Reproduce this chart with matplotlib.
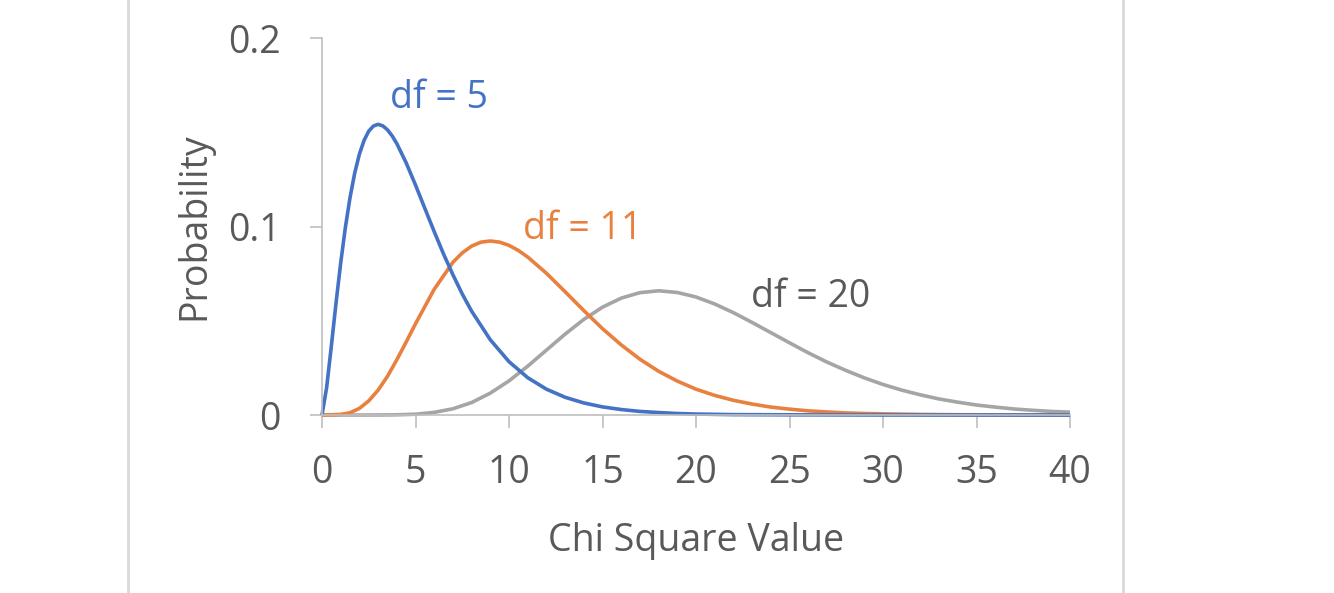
import matplotlib
matplotlib.use("Agg")
import matplotlib.pyplot as plt
from matplotlib.lines import Line2D

# values
x5 = [0, 0.25, 0.5, 0.75, 1, 1.25, 1.5, 1.75, 2, 2.25, 2.5, 2.75, 3, 3.25,
      3.5, 3.75, 4, 4.5, 5, 5.5, 6, 6.5, 7, 7.5, 8, 9, 10, 11, 12, 13, 14,
      15, 16, 17, 18, 19, 20, 22, 25, 30, 40]
df5 = [0, 0.0147, 0.0366, 0.0594, 0.0807, 0.0995, 0.1154, 0.1284, 0.1384,
       0.1457, 0.1506, 0.1533, 0.1542, 0.1534, 0.1513, 0.1481, 0.1440,
       0.1338, 0.1220, 0.1096, 0.0973, 0.0854, 0.0744, 0.0642, 0.0551,
       0.0399, 0.0283, 0.0198, 0.0137, 0.0094, 0.0064, 0.0043, 0.0029,
       0.0019, 0.0013, 0.0008, 0.0005, 0.0002, 0.0001, 0, 0]

x11 = [0, 1, 1.5, 2, 2.5, 3, 3.5, 4, 4.5, 5, 6, 7, 7.5, 8, 8.5, 9, 9.5, 10,
       10.5, 11, 12, 13, 14, 15, 16, 17, 18, 19, 20, 21, 22, 23, 24, 25, 26,
       27, 28, 29, 30, 32, 34, 36, 38, 40]
df11 = [0, 0.0003, 0.0012, 0.0035, 0.0075, 0.0132, 0.0205, 0.0293, 0.0387,
        0.0484, 0.0667, 0.0810, 0.0860, 0.0896, 0.0917, 0.0923, 0.0917,
        0.0900, 0.0873, 0.0838, 0.0752, 0.0654, 0.0554, 0.0458, 0.0372,
        0.0296, 0.0232, 0.0180, 0.0137, 0.0104, 0.0078, 0.0058, 0.0042,
        0.0031, 0.0022, 0.0016, 0.0011, 0.0008, 0.0006, 0.0003, 0.00014,
        0.00007, 0.00003, 0.00001]

x20 = list(range(0, 41))
df20 = [0, 0, 0, 0.00001, 0.0001, 0.0004, 0.0014, 0.0033, 0.0066, 0.0116,
        0.0181, 0.0259, 0.0344, 0.0429, 0.0507, 0.0572, 0.0620, 0.0649,
        0.0659, 0.0650, 0.0626, 0.0589, 0.0543, 0.0491, 0.0437, 0.0383,
        0.0330, 0.0281, 0.0237, 0.0197, 0.0162, 0.0132, 0.0107, 0.0085,
        0.0068, 0.0053, 0.0042, 0.0032, 0.0025, 0.0019, 0.0015]

x_ticks = [0, 5, 10, 15, 20, 25, 30, 35, 40]
y_ticks = [0, 0.1, 0.2]
y_labels = ["0", "0.1", "0.2"]

blue = "#4472C4"
orange = "#E8803F"
grey = "#A5A5A5"
textcol = "#595959"
axcol = "#BFBFBF"

plt.rcParams['font.family'] = ['Open Sans', 'DejaVu Sans']

fig = plt.figure(figsize=(13.34, 5.93), dpi=100)
ax = fig.add_axes([322 / 1334, 1 - 415 / 593, 748 / 1334, 377 / 593])

ax.plot(x20, df20, color=grey, lw=2.6, clip_on=False, solid_capstyle="butt")
ax.plot(x11, df11, color=orange, lw=2.6, clip_on=False, solid_capstyle="butt")
ax.plot(x5, df5, color=blue, lw=2.6, clip_on=False, solid_capstyle="butt")

ax.set_xlim(0, 40)
ax.set_ylim(0, 0.2)
ax.set_xticks(x_ticks)
ax.set_yticks(y_ticks)
ax.set_yticklabels(y_labels)

for s in ["top", "right"]:
    ax.spines[s].set_visible(False)
for s in ["left", "bottom"]:
    ax.spines[s].set_color(axcol)
    ax.spines[s].set_linewidth(1.2)
ax.tick_params(axis="both", colors=axcol, length=9, width=1.2,
               labelcolor=textcol, labelsize=27)
ax.tick_params(axis="x", pad=19)
ax.tick_params(axis="y", pad=21)

ax.set_xlabel("Chi Square Value", fontsize=27, color=textcol, labelpad=22)
ax.set_ylabel("Probability", fontsize=27, color=textcol, labelpad=10)

ax.text(3.64, 0.168, "df = 5", color=blue, fontsize=27, va="center", ha="left")
ax.text(10.75, 0.0987, "df = 11", color=orange, fontsize=27, va="center", ha="left")
ax.text(22.94, 0.0626, "df = 20", color=textcol, fontsize=27, va="center", ha="left")

# chart box edges
for xf in [128 / 1334, 1123 / 1334]:
    fig.add_artist(Line2D([xf, xf], [0, 1], color="#D9D9D9", lw=2.0,
                          transform=fig.transFigure))

plt.savefig("out.png", dpi=100)
plt.close()
